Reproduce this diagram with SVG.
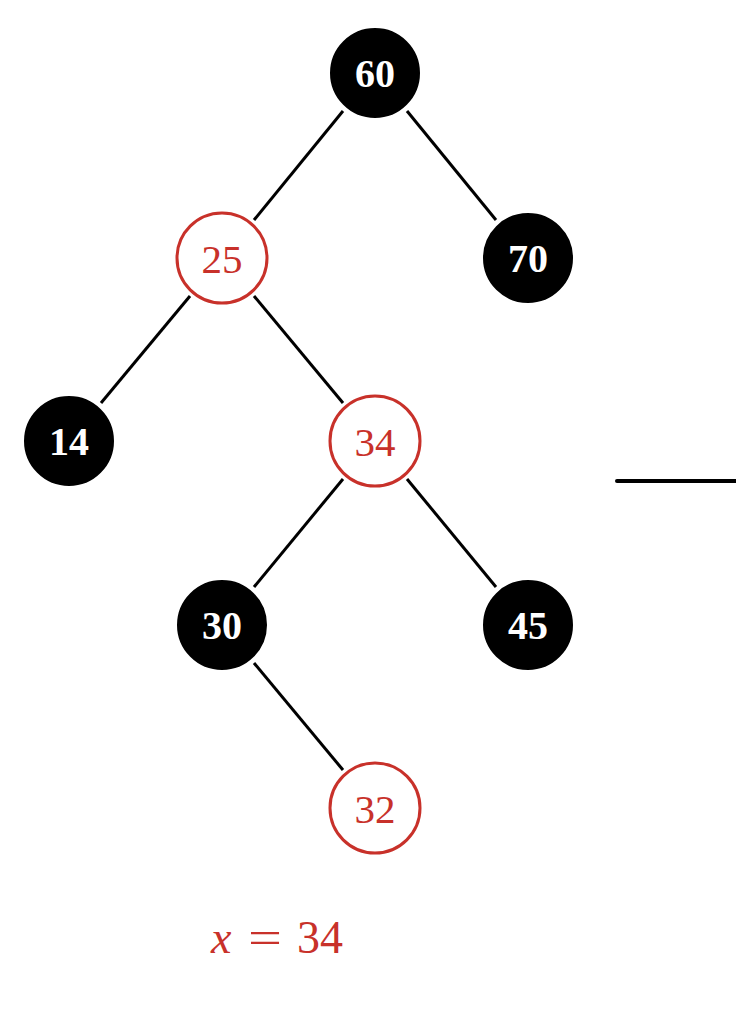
<svg xmlns="http://www.w3.org/2000/svg" width="736" height="1010" viewBox="0 0 736 1010">
<style>
.b circle{fill:#000;stroke:#000;stroke-width:2}
.r circle{fill:#fff;stroke:#c8312a;stroke-width:3}
.b text{fill:#fff;font-family:"Liberation Serif",serif;font-weight:bold;font-size:40px;text-anchor:middle}
.r text{fill:#c8312a;font-family:"Liberation Serif",serif;font-size:41px;text-anchor:middle}
#edges line{stroke:#000;stroke-width:3}
.eq{fill:#c8312a;font-family:"Liberation Serif",serif;font-size:46px}
</style>
<rect width="736" height="1010" fill="#fff"/>
<g id="edges">
<line x1="343" y1="111" x2="254" y2="220"/>
<line x1="407" y1="111" x2="496" y2="220"/>
<line x1="190" y1="296" x2="101" y2="403"/>
<line x1="254" y1="296" x2="343" y2="403"/>
<line x1="343" y1="479" x2="254" y2="587"/>
<line x1="407" y1="479" x2="496" y2="587"/>
<line x1="254" y1="663" x2="343" y2="770"/>
</g>
<g id="n60" class="b"><circle cx="375" cy="73" r="44"/><text x="375" y="87">60</text></g>
<g id="n25" class="r"><circle cx="222" cy="258" r="45"/><text x="222" y="273">25</text></g>
<g id="n70" class="b"><circle cx="528" cy="258" r="44"/><text x="528" y="272">70</text></g>
<g id="n14" class="b"><circle cx="69" cy="441" r="44"/><text x="69" y="455">14</text></g>
<g id="n34" class="r"><circle cx="375" cy="441" r="45"/><text x="375" y="456">34</text></g>
<g id="n30" class="b"><circle cx="222" cy="625" r="44"/><text x="222" y="639">30</text></g>
<g id="n45" class="b"><circle cx="528" cy="625" r="44"/><text x="528" y="639">45</text></g>
<g id="n32" class="r"><circle cx="375" cy="808" r="45"/><text x="375" y="823">32</text></g>
<line x1="617" y1="481" x2="736" y2="481" stroke="#000" stroke-width="4" stroke-linecap="round"/>
<g id="label">
<text class="eq" x="211" y="953" font-style="italic">x</text>
<text class="eq" x="248" y="953" textLength="34" lengthAdjust="spacingAndGlyphs">=</text>
<text class="eq" x="297" y="953">34</text>
</g>
</svg>
